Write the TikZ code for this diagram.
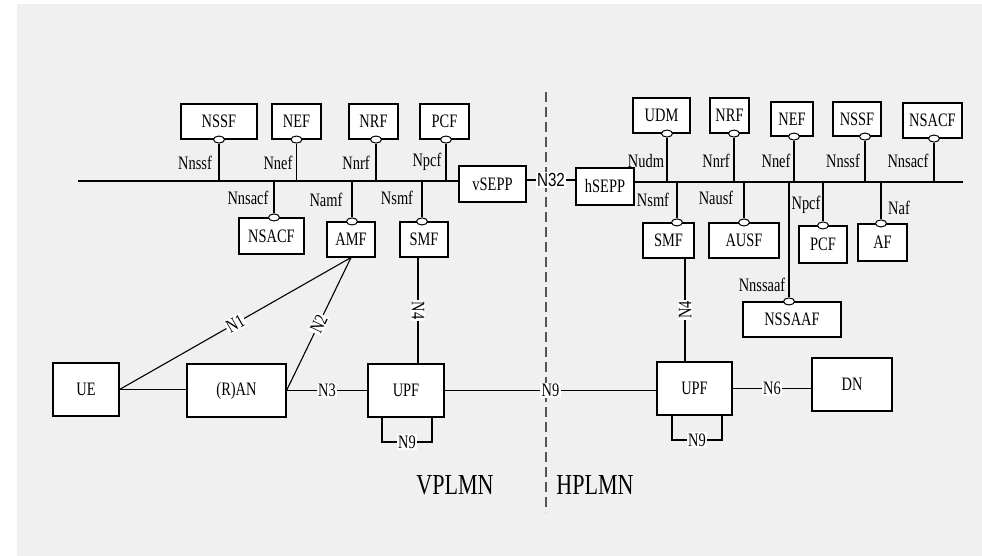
\documentclass[tikz,border=0pt]{standalone}
\usepackage{fontspec}
\setmainfont{Liberation Serif}[FakeStretch=0.76]
\newfontfamily\labsans{Liberation Sans}[FakeStretch=0.8]
\usetikzlibrary{shapes.geometric}
\definecolor{panel}{HTML}{F0F0F0}
\definecolor{dashc}{HTML}{555555}
\begin{document}
\begin{tikzpicture}[x=1pt,y=-1pt,
  box/.style={draw, fill=white, line width=1.1pt, inner sep=0pt, font=\fontsize{19}{21}\selectfont},
  port/.style={draw, fill=white, ellipse, minimum width=11pt, minimum height=7pt, inner sep=0pt, line width=1pt},
  ifl/.style={font=\fontsize{19}{21}\selectfont, inner sep=0pt},
  lbl/.style={fill=white, inner sep=1.2pt, font=\fontsize{19}{21}\selectfont},
  conn/.style={line width=1.1pt},
  region/.style={font=\fontsize{29}{32}\selectfont, inner sep=0pt}
]
\useasboundingbox (0,0) rectangle (982,556);
\fill[panel] (17,4) rectangle (982,556);

% coordinates
\coordinate (busL) at (78,181);
\coordinate (busR) at (963,182);
\coordinate (n32y) at (0,180);
\coordinate (dtop) at (546,92);
\coordinate (dbot) at (546,512);
\coordinate (n4v) at (418,0);
\coordinate (n4h) at (685,0);
\coordinate (lv1) at (382,442);
\coordinate (lv2) at (432,442);
\coordinate (lh1) at (672,440);
\coordinate (lh2) at (722,440);

\draw[dashc, line width=1.1pt, dash pattern=on 10pt off 5pt] (dtop) -- (dbot);

% boxes - VPLMN
\node[box, minimum width=76pt, minimum height=35pt] (nssfv) at (219,121.5) {NSSF};
\node[box, minimum width=49pt, minimum height=35pt] (nefv) at (296.5,121.5) {NEF};
\node[box, minimum width=49pt, minimum height=35pt] (nrfv) at (373.5,121.5) {NRF};
\node[box, minimum width=49pt, minimum height=35pt] (pcfv) at (444.5,121.5) {PCF};
\node[box, minimum width=67pt, minimum height=36pt] (vsepp) at (492.5,184) {vSEPP};
\node[box, minimum width=65pt, minimum height=36pt] (nsacfv) at (271.5,236) {NSACF};
\node[box, minimum width=48pt, minimum height=35pt] (amf) at (351,239.5) {AMF};
\node[box, minimum width=48pt, minimum height=35pt] (smfv) at (424,239.5) {SMF};
\node[box, minimum width=66pt, minimum height=53pt] (ue) at (86,389.5) {UE};
\node[box, minimum width=99pt, minimum height=53pt] (ran) at (236.5,390.5) {(R)AN};
\node[box, minimum width=76pt, minimum height=53pt] (upfv) at (406,390.5) {UPF};

% boxes - HPLMN
\node[box, minimum width=58pt, minimum height=37pt] (hsepp) at (605,186.5) {hSEPP};
\node[box, minimum width=57pt, minimum height=35pt] (udm) at (661.5,115.5) {UDM};
\node[box, minimum width=39pt, minimum height=35pt] (nrfh) at (729.5,115.5) {NRF};
\node[box, minimum width=42pt, minimum height=34pt] (nefh) at (792,119) {NEF};
\node[box, minimum width=48pt, minimum height=34pt] (nssfh) at (857,119) {NSSF};
\node[box, minimum width=59pt, minimum height=35pt] (nsacfh) at (932.5,120.5) {NSACF};
\node[box, minimum width=51pt, minimum height=35pt] (smfh) at (668.5,240.5) {SMF};
\node[box, minimum width=70pt, minimum height=35pt] (ausf) at (744,240.5) {AUSF};
\node[box, minimum width=48pt, minimum height=37pt] (pcfh) at (823,244.5) {PCF};
\node[box, minimum width=49pt, minimum height=37pt] (af) at (882.5,242.5) {AF};
\node[box, minimum width=98pt, minimum height=35pt] (nssaaf) at (792,319.5) {NSSAAF};
\node[box, minimum width=75pt, minimum height=53pt] (upfh) at (694.5,388.5) {UPF};
\node[box, minimum width=80pt, minimum height=53pt] (dn) at (852,384.5) {DN};

% ports
\node[port] (pnssfv) at (nssfv.south) {};
\node[port] (pnefv) at (nefv.south) {};
\node[port] (pnrfv) at ([xshift=2.5pt]nrfv.south) {};
\node[port] (ppcfv) at ([xshift=1.5pt]pcfv.south) {};
\node[port] (pnsacfv) at ([xshift=2.5pt]nsacfv.north) {};
\node[port] (pamf) at ([xshift=1pt]amf.north) {};
\node[port] (psmfv) at ([xshift=-2pt]smfv.north) {};
\node[port] (pudm) at ([xshift=5.5pt]udm.south) {};
\node[port] (pnrfh) at ([xshift=4.5pt]nrfh.south) {};
\node[port] (pnefh) at ([xshift=2pt]nefh.south) {};
\node[port] (pnssfh) at ([xshift=8pt]nssfh.south) {};
\node[port] (pnsacfh) at ([xshift=1.5pt]nsacfh.south) {};
\node[port] (psmfh) at ([xshift=8.5pt]smfh.north) {};
\node[port] (pausf) at (ausf.north) {};
\node[port] (ppcfh) at (pcfh.north) {};
\node[port] (paf) at ([xshift=-1.5pt]af.north) {};
\node[port] (pnssaaf) at ([xshift=-3pt]nssaaf.north) {};

% buses
\draw[conn] (busL) -- (busL -| vsepp.west);
\draw[conn] (hsepp.east |- busR) -- (busR);
\draw[conn] (vsepp.east |- n32y) -- node[lbl, font=\labsans\fontsize{19}{21}\selectfont] {N32} (hsepp.west |- n32y);

% service interface stubs
\foreach \p in {pnssfv,pnefv,pnrfv,ppcfv}
  \draw[conn] (\p.south) -- (\p |- busL);
\foreach \p in {pnsacfv,pamf,psmfv}
  \draw[conn] (\p.north) -- (\p |- busL);
\foreach \p in {pudm,pnrfh,pnefh,pnssfh,pnsacfh}
  \draw[conn] (\p.south) -- (\p |- busR);
\foreach \p in {psmfh,pausf,ppcfh,paf,pnssaaf}
  \draw[conn] (\p.north) -- (\p |- busR);

% interface labels
\node[ifl] (lnssfv) at (195,163) {Nnssf};
\node[ifl] (lnefv) at (278,163) {Nnef};
\node[ifl] (lnrfv) at (356,163) {Nnrf};
\node[ifl] (lpcfv) at (427,162) {Npcf};
\node[ifl] (lnsacfv) at (248,198) {Nnsacf};
\node[ifl] (lamf) at (326,200) {Namf};
\node[ifl] (lsmfv) at (397,198) {Nsmf};
\node[ifl] (ludm) at (646,161) {Nudm};
\node[ifl] (lnrfh) at (716,161) {Nnrf};
\node[ifl] (lnefh) at (776,161) {Nnef};
\node[ifl] (lnssfh) at (843,161) {Nnssf};
\node[ifl] (lnsacfh) at (908,161) {Nnsacf};
\node[ifl] (lsmfh) at (653,200) {Nsmf};
\node[ifl] (lausf) at (716,198) {Nausf};
\node[ifl] (lpcfh) at (806,205) {Npcf};
\node[ifl] (laf) at (899,208) {Naf};
\node[ifl] (lnssaaf) at (762,285) {Nnssaaf};

% reference points
\draw[conn] (ue.east) -- (ue.east -| ran.west);
\draw[conn] (ue.east) -- node[lbl, sloped] {N1} (amf.south);
\draw[conn] (ran.east) -- node[lbl, sloped] {N2} (amf.south);
\draw[conn] (ran.east) -- node[lbl] {N3} (ran.east -| upfv.west);
\draw[conn] (smfv.south -| n4v) -- node[lbl, rotate=-90] {N4} (upfv.north -| n4v);
\draw[conn] (smfh.south -| n4h) -- node[lbl, rotate=90] {N4} (upfh.north -| n4h);
\draw[conn] (upfv.east |- ran.east) -- node[lbl] {N9} (upfh.west |- ran.east);
\draw[conn] (upfh.east) -- node[lbl] {N6} (upfh.east -| dn.west);
\draw[conn] (upfv.south -| lv1) -- (lv1) -- node[lbl] {N9} (lv2) -- (upfv.south -| lv2);
\draw[conn] (upfh.south -| lh1) -- (lh1) -- node[lbl] {N9} (lh2) -- (upfh.south -| lh2);

% regions
\node[region] (vplmn) at (455,485) {VPLMN};
\node[region] (hplmn) at (595,485) {HPLMN};
\end{tikzpicture}
\end{document}
